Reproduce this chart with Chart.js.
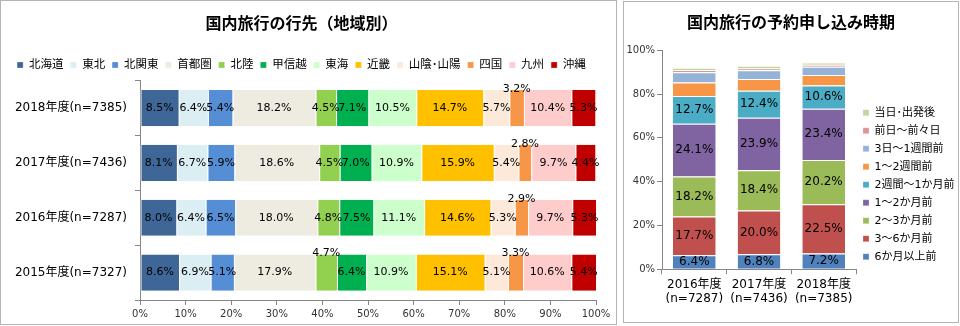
<!DOCTYPE html>
<html>
<head>
<meta charset="utf-8">
<script src="https://cdn.jsdelivr.net/npm/chart.js@4/dist/chart.umd.min.js"></script>
<style>
  body { margin: 0; background: #fff; font-family: 'DejaVu Sans', 'Noto Sans CJK JP', sans-serif; }
  .box { position: absolute; box-sizing: border-box; border: 1px solid #b4b4b4; background: #fff; }
  #leftBox { left: 0; top: 0; width: 617px; height: 325px; }
  #rightBox { left: 623px; top: 1px; width: 336px; height: 322px; }
</style>
</head>
<body>
<div class="box" id="leftBox"><canvas id="destChart" width="615" height="323"></canvas></div>
<div class="box" id="rightBox"><canvas id="bookChart" width="334" height="320"></canvas></div>
<script>
const FONT = "'DejaVu Sans', 'Noto Sans CJK JP', sans-serif";

// --- left chart: destination by region (%) ---
const years = ['2018年度(n=7385)', '2017年度(n=7436)', '2016年度(n=7287)', '2015年度(n=7327)'];
const regions = ['北海道', '東北', '北関東', '首都圏', '北陸', '甲信越', '東海', '近畿', '山陰･山陽', '四国', '九州', '沖縄'];
const hokkaido   = [8.5, 8.1, 8.0, 8.6];
const tohoku     = [6.4, 6.7, 6.4, 6.9];
const kitakanto  = [5.4, 5.9, 6.5, 5.1];
const shutoken   = [18.2, 18.6, 18.0, 17.9];
const hokuriku   = [4.5, 4.5, 4.8, 4.7];
const koshinetsu = [7.1, 7.0, 7.5, 6.4];
const tokai      = [10.5, 10.9, 11.1, 10.9];
const kinki      = [14.7, 15.9, 14.6, 15.1];
const sanin      = [5.7, 5.4, 5.3, 5.1];
const shikoku    = [3.2, 2.8, 2.9, 3.3];
const kyushu     = [10.4, 9.7, 9.7, 10.6];
const okinawa    = [5.3, 4.4, 5.3, 5.4];
const regionValues = [hokkaido, tohoku, kitakanto, shutoken, hokuriku, koshinetsu, tokai, kinki, sanin, shikoku, kyushu, okinawa];
const regionColors = ['#3e6797', '#dbeef4', '#558ed5', '#eeece1', '#92d050', '#00b050', '#ccffcc', '#ffc000', '#fde9d9', '#f79646', '#ffcccc', '#c00000'];

// --- right chart: booking timing (%) ---
const bookYears = [['2016年度', '(n=7287)'], ['2017年度', '(n=7436)'], ['2018年度', '(n=7385)']];
const timings = ['6か月以上前', '3～6か月前', '2～3か月前', '1～2か月前', '2週間～1か月前', '1～2週間前', '3日～1週間前', '前日～前々日', '当日･出発後'];
const over6m   = [6.4, 6.8, 7.2];
const m3to6    = [17.7, 20.0, 22.5];
const m2to3    = [18.2, 18.4, 20.2];
const m1to2    = [24.1, 23.9, 23.4];
const w2to1m   = [12.7, 12.4, 10.6];
const w1to2    = [6.2, 5.3, 4.8];
const d3to1w   = [4.6, 4.0, 3.8];
const dayBefore = [1.1, 0.9, 0.9];
const sameDay  = [1.0, 1.2, 1.0];
const timingValues = [over6m, m3to6, m2to3, m1to2, w2to1m, w1to2, d3to1w, dayBefore, sameDay];
const timingColors = ['#4f81bd', '#c0504d', '#9bbb59', '#8064a2', '#4bacc6', '#f79646', '#95b3d7', '#d99694', '#c3d69b'];

// draws the value labels on the bars
const barLabels = {
  id: 'barLabels',
  afterDatasetsDraw(chart, args, opts) {
    const ctx = chart.ctx;
    const horizontal = chart.options.indexAxis === 'y';
    ctx.save();
    ctx.font = opts.size + 'px ' + FONT;
    ctx.fillStyle = '#000';
    ctx.textAlign = 'center';
    ctx.textBaseline = 'middle';
    chart.data.datasets.forEach((ds, i) => {
      if (opts.count && i >= opts.count) return;
      chart.getDatasetMeta(i).data.forEach((bar, j) => {
        const p = bar.getProps(['x', 'y', 'base', 'height'], true);
        const text = ds.data[j].toFixed(1) + '%';
        if (horizontal) {
          const cx = (p.x + p.base) / 2;
          const above = ds.labelAbove && ds.labelAbove[j];
          ctx.fillText(text, cx, above ? p.y - p.height / 2 - 1 : p.y);
        } else {
          ctx.fillText(text, p.x, (p.y + p.base) / 2);
        }
      });
    });
    ctx.restore();
  }
};

const axisGray = '#868686';

new Chart(document.getElementById('destChart'), {
  type: 'bar',
  data: {
    labels: years,
    datasets: regions.map((name, i) => ({
      label: name,
      data: regionValues[i],
      backgroundColor: regionColors[i],
      borderColor: '#fff',
      borderWidth: { left: 1, right: 0, top: 0, bottom: 0 },
      borderSkipped: false,
      barPercentage: 0.66,
      categoryPercentage: 1,
      labelAbove: name === '四国' ? [true, true, true, true] : (name === '北陸' ? [false, false, false, true] : null)
    }))
  },
  options: {
    indexAxis: 'y',
    responsive: false,
    animation: false,
    layout: { padding: { left: 6, right: 20, top: 0, bottom: 1 } },
    plugins: {
      title: {
        display: true,
        text: '国内旅行の行先（地域別）',
        color: '#000',
        font: { family: FONT, size: 16, weight: 'bold' },
        padding: { top: 14, bottom: 18 }
      },
      legend: {
        labels: {
          boxWidth: 6, boxHeight: 6, padding: 7,
          color: '#000',
          font: { family: FONT, size: 11.5 }
        }
      },
      tooltip: { enabled: false },
      barLabels: { size: 11 }
    },
    scales: {
      x: {
        stacked: true, min: 0, max: 100,
        ticks: { stepSize: 10, callback: v => v + '%', color: '#333', font: { family: FONT, size: 10 } },
        grid: { drawOnChartArea: false, tickLength: 5, color: axisGray },
        border: { color: axisGray }
      },
      y: {
        stacked: true,
        afterFit: axis => { axis.width = 133; },
        ticks: { color: '#000', padding: 8, font: { family: FONT, size: 12 } },
        grid: { drawOnChartArea: false, tickLength: 5, color: axisGray, offset: true },
        border: { color: axisGray }
      }
    }
  },
  plugins: [barLabels]
});

new Chart(document.getElementById('bookChart'), {
  type: 'bar',
  data: {
    labels: bookYears,
    datasets: timings.map((name, i) => ({
      label: name,
      data: timingValues[i],
      backgroundColor: timingColors[i],
      borderColor: '#fff',
      borderWidth: { top: 1, bottom: 0, left: 0, right: 0 },
      borderSkipped: false,
      barPercentage: 0.66,
      categoryPercentage: 1
    }))
  },
  options: {
    responsive: false,
    animation: false,
    layout: { padding: { left: 0, right: 0, top: 0, bottom: 13 } },
    plugins: {
      title: {
        display: true,
        text: '国内旅行の予約申し込み時期',
        color: '#000',
        font: { family: FONT, size: 16, weight: 'bold' },
        padding: { top: 12, bottom: 17 }
      },
      legend: {
        position: 'right',
        align: 'end',
        fullSize: false,
        reverse: true,
        maxWidth: 102,
        labels: {
          boxWidth: 6, boxHeight: 6, padding: 7,
          color: '#000',
          font: { family: FONT, size: 11 }
        }
      },
      tooltip: { enabled: false },
      barLabels: { size: 12, count: 5 }
    },
    scales: {
      x: {
        stacked: true,
        ticks: { color: '#000', font: { family: FONT, size: 12 } },
        grid: { drawOnChartArea: false, tickLength: 5, color: axisGray, offset: true },
        border: { color: axisGray }
      },
      y: {
        stacked: true, min: 0, max: 100,
        afterFit: axis => { axis.width = 38; },
        ticks: { stepSize: 20, callback: v => v + '%', color: '#333', padding: 2, font: { family: FONT, size: 10 } },
        grid: { drawOnChartArea: false, tickLength: 5, color: axisGray },
        border: { color: axisGray }
      }
    }
  },
  plugins: [barLabels]
});
</script>
</body>
</html>
